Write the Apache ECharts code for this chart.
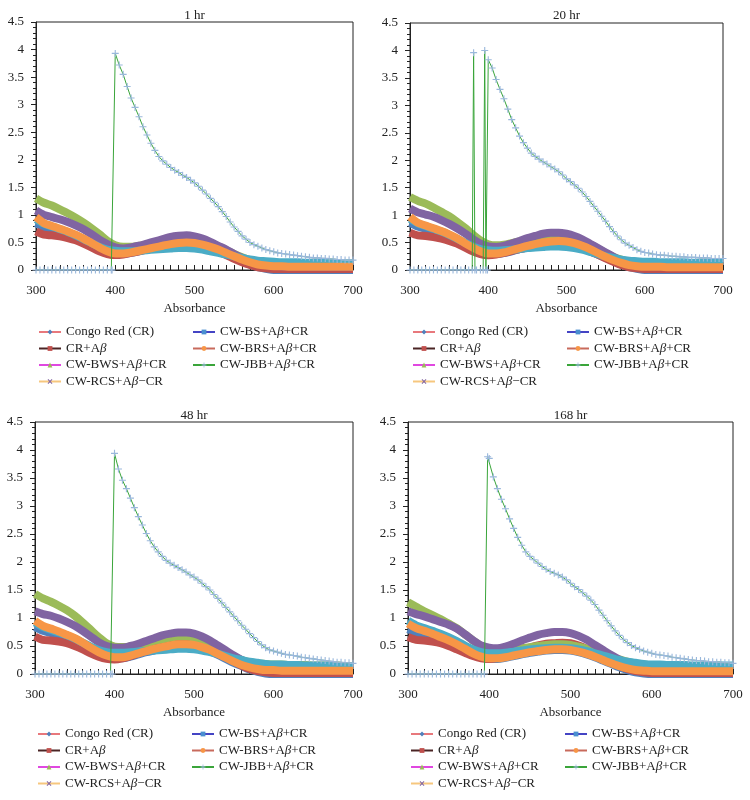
<!DOCTYPE html>
<html>
<head>
<meta charset="utf-8">
<script src="https://cdn.jsdelivr.net/npm/echarts@6/dist/echarts.min.js"></script>
<style>
    body { margin: 0; background: #fff; }
    .panel { position: absolute; width: 375px; height: 400px; }
</style>
</head>
<body>
<div id="p1" class="panel" style="left:0;top:0"></div>
<div id="p2" class="panel" style="left:375px;top:0"></div>
<div id="p3" class="panel" style="left:0;top:400px"></div>
<div id="p4" class="panel" style="left:375px;top:400px"></div>
<script>
// wavelengths (nm)
const wl = [300,310,320,330,340,350,360,370,380,390,400,410,420,430,440,450,460,470,480,490,500,510,520,530,540,550,560,570,580,590,600,610,620,630,640,650,660,670,680,690,700];
const wl5 = [400,405,410,415,420,425,430,435,440,445,450,455,460,465,470,475,480,485,490,495,500,505,510,515,520,525,530,535,540,545,550,555,560,565,570,575,580,585,590,595,600,605,610,615,620,625,630,635,640,645,650,655,660,665,670,675,680,685,690,695,700];

const seriesNames = ['Congo Red (CR)', 'CR+Aβ', 'CW-BWS+Aβ+CR', 'CW-RCS+Aβ−CR', 'CW-BS+Aβ+CR', 'CW-BRS+Aβ+CR', 'CW-JBB+Aβ+CR'];

// 1 hr
const cr1   = [0.85,0.78,0.74,0.70,0.66,0.60,0.54,0.46,0.38,0.32,0.29,0.29,0.31,0.34,0.37,0.40,0.43,0.45,0.47,0.47,0.46,0.43,0.39,0.34,0.28,0.22,0.16,0.10,0.05,0.02,0,0,0,0,0,0,0,0,0,0,0];
const crab1 = [0.70,0.64,0.63,0.61,0.58,0.54,0.48,0.41,0.34,0.29,0.27,0.28,0.31,0.34,0.37,0.40,0.43,0.45,0.47,0.47,0.46,0.43,0.39,0.33,0.27,0.20,0.14,0.09,0.05,0.03,0.02,0.02,0.02,0.02,0.02,0.02,0.02,0.02,0.02,0.02,0.02];
const bws1  = [1.30,1.22,1.17,1.10,1.03,0.95,0.86,0.76,0.65,0.53,0.45,0.42,0.42,0.44,0.46,0.49,0.52,0.55,0.57,0.58,0.57,0.54,0.49,0.43,0.36,0.29,0.23,0.18,0.14,0.12,0.11,0.11,0.10,0.10,0.10,0.10,0.10,0.09,0.09,0.09,0.09];
const rcs1  = [1.08,1.00,0.96,0.92,0.87,0.81,0.74,0.65,0.55,0.47,0.41,0.39,0.41,0.44,0.48,0.52,0.56,0.60,0.62,0.63,0.61,0.57,0.51,0.44,0.37,0.29,0.22,0.16,0.12,0.09,0.08,0.07,0.07,0.07,0.07,0.06,0.06,0.06,0.06,0.06,0.06];
const bs1   = [0.92,0.84,0.79,0.74,0.69,0.63,0.56,0.49,0.42,0.37,0.35,0.34,0.34,0.35,0.36,0.37,0.38,0.39,0.40,0.40,0.39,0.37,0.34,0.31,0.28,0.25,0.22,0.19,0.17,0.16,0.15,0.14,0.14,0.14,0.13,0.13,0.13,0.13,0.12,0.12,0.12];
const brs1  = [0.96,0.85,0.80,0.75,0.70,0.64,0.57,0.49,0.41,0.34,0.30,0.30,0.32,0.35,0.38,0.41,0.44,0.47,0.49,0.50,0.49,0.46,0.42,0.37,0.31,0.25,0.19,0.14,0.10,0.08,0.07,0.07,0.06,0.06,0.06,0.06,0.06,0.06,0.06,0.06,0.06];
const jbbPreX1 = [300,305,310,315,320,325,330,335,340,345,350,355,360,365,370,375,380,385,390,395,396];
const jbbPreY1 = [0,0,0,0,0,0,0,0,0,0,0,0,0,0,0,0,0,0,0,0,0];
const jbbTail1 = [3.93,3.72,3.55,3.33,3.12,2.95,2.78,2.60,2.45,2.30,2.17,2.06,1.98,1.92,1.86,1.81,1.77,1.72,1.68,1.63,1.58,1.52,1.45,1.38,1.30,1.23,1.15,1.06,0.97,0.87,0.78,0.70,0.62,0.56,0.50,0.46,0.43,0.40,0.37,0.35,0.33,0.31,0.30,0.29,0.28,0.27,0.26,0.25,0.24,0.23,0.22,0.22,0.21,0.21,0.20,0.20,0.19,0.19,0.18,0.18,0.18];

// 20 hr
const cr2   = [0.86,0.79,0.75,0.71,0.66,0.61,0.54,0.46,0.38,0.32,0.29,0.29,0.31,0.34,0.38,0.41,0.44,0.46,0.48,0.48,0.47,0.44,0.40,0.34,0.28,0.22,0.16,0.10,0.05,0.02,0,0,0,0,0,0,0,0,0,0,0];
const crab2 = [0.68,0.63,0.62,0.60,0.57,0.53,0.48,0.41,0.34,0.29,0.27,0.28,0.31,0.35,0.38,0.41,0.44,0.46,0.48,0.48,0.47,0.44,0.40,0.34,0.28,0.21,0.15,0.09,0.05,0.03,0.02,0.02,0.02,0.02,0.02,0.02,0.02,0.02,0.02,0.02,0.02];
const bws2  = [1.33,1.26,1.21,1.14,1.06,0.98,0.88,0.77,0.65,0.54,0.47,0.45,0.46,0.49,0.52,0.55,0.59,0.62,0.64,0.65,0.63,0.60,0.54,0.47,0.39,0.31,0.24,0.19,0.15,0.13,0.12,0.12,0.11,0.11,0.11,0.11,0.10,0.10,0.10,0.10,0.10];
const rcs2  = [1.12,1.05,1.01,0.97,0.91,0.84,0.76,0.67,0.57,0.48,0.43,0.42,0.44,0.48,0.53,0.58,0.62,0.66,0.68,0.68,0.66,0.62,0.56,0.48,0.40,0.32,0.24,0.17,0.12,0.09,0.08,0.07,0.07,0.07,0.07,0.06,0.06,0.06,0.06,0.06,0.06];
const bs2   = [0.93,0.85,0.80,0.75,0.70,0.64,0.57,0.50,0.43,0.38,0.36,0.35,0.36,0.37,0.38,0.40,0.41,0.42,0.43,0.43,0.42,0.40,0.37,0.33,0.29,0.25,0.22,0.19,0.17,0.16,0.15,0.15,0.14,0.14,0.14,0.14,0.13,0.13,0.13,0.13,0.13];
const brs2  = [0.97,0.86,0.81,0.76,0.71,0.65,0.58,0.49,0.41,0.34,0.30,0.30,0.32,0.36,0.40,0.44,0.47,0.50,0.52,0.53,0.52,0.49,0.44,0.38,0.31,0.24,0.18,0.13,0.09,0.07,0.06,0.06,0.06,0.05,0.05,0.05,0.05,0.05,0.05,0.05,0.05];
const jbbPreX2 = [300,305,310,315,320,325,330,335,340,345,350,355,360,365,370,375,379.5,381.3,383,385,390,393.5,395.5,397,399];
const jbbPreY2 = [0,0,0,0,0,0,0,0,0,0,0,0,0,0,0,0,0,3.96,0,0,0,0,4.0,0,0];
const jbbTail2 = [3.83,3.68,3.47,3.29,3.12,2.93,2.74,2.59,2.44,2.32,2.22,2.13,2.07,2.02,1.97,1.93,1.88,1.84,1.79,1.73,1.66,1.61,1.55,1.49,1.42,1.34,1.25,1.16,1.07,0.98,0.89,0.79,0.70,0.62,0.55,0.49,0.45,0.41,0.37,0.34,0.32,0.31,0.29,0.28,0.27,0.27,0.26,0.25,0.25,0.24,0.24,0.23,0.23,0.23,0.22,0.22,0.22,0.21,0.21,0.21,0.21];

// 48 hr
const cr3   = [0.84,0.77,0.73,0.69,0.65,0.59,0.52,0.44,0.37,0.31,0.28,0.28,0.31,0.35,0.39,0.42,0.45,0.47,0.49,0.49,0.48,0.45,0.40,0.34,0.27,0.20,0.14,0.08,0.04,0.01,0,0,0,0,0,0,0,0,0,0,0];
const crab3 = [0.67,0.61,0.60,0.58,0.55,0.50,0.44,0.37,0.31,0.27,0.26,0.28,0.32,0.37,0.42,0.46,0.50,0.54,0.56,0.57,0.56,0.52,0.46,0.39,0.31,0.23,0.15,0.09,0.05,0.03,0.02,0.02,0.02,0.02,0.02,0.02,0.02,0.02,0.02,0.02,0.02];
const bws3  = [1.43,1.35,1.29,1.22,1.14,1.04,0.92,0.79,0.66,0.55,0.49,0.48,0.49,0.52,0.55,0.59,0.62,0.65,0.67,0.67,0.65,0.60,0.54,0.46,0.38,0.31,0.25,0.21,0.19,0.18,0.17,0.17,0.16,0.16,0.16,0.15,0.15,0.15,0.15,0.14,0.14];
const rcs3  = [1.12,1.07,1.04,0.99,0.93,0.86,0.77,0.67,0.57,0.50,0.47,0.47,0.50,0.54,0.59,0.64,0.69,0.72,0.74,0.74,0.72,0.67,0.60,0.51,0.42,0.33,0.25,0.18,0.13,0.10,0.09,0.08,0.08,0.08,0.07,0.07,0.07,0.07,0.07,0.07,0.07];
const bs3   = [0.92,0.84,0.79,0.74,0.69,0.63,0.56,0.49,0.43,0.39,0.38,0.38,0.39,0.40,0.41,0.42,0.43,0.44,0.45,0.45,0.44,0.42,0.39,0.36,0.32,0.28,0.25,0.22,0.20,0.18,0.17,0.17,0.16,0.16,0.15,0.15,0.15,0.15,0.14,0.14,0.14];
const brs3  = [0.95,0.86,0.81,0.76,0.70,0.64,0.56,0.47,0.39,0.33,0.30,0.30,0.33,0.37,0.41,0.45,0.48,0.51,0.53,0.53,0.52,0.48,0.43,0.36,0.29,0.22,0.16,0.12,0.09,0.07,0.07,0.06,0.06,0.06,0.06,0.06,0.06,0.06,0.06,0.06,0.06];
const jbbPreX3 = [300,305,310,315,320,325,330,335,340,345,350,355,360,365,370,375,380,385,390,395,397];
const jbbPreY3 = [0,0,0,0,0,0,0,0,0,0,0,0,0,0,0,0,0,0,0,0,0];
const jbbTail3 = [3.94,3.66,3.46,3.31,3.14,2.97,2.81,2.66,2.51,2.38,2.27,2.18,2.10,2.03,1.98,1.94,1.90,1.86,1.82,1.77,1.73,1.68,1.62,1.56,1.50,1.42,1.35,1.27,1.19,1.11,1.03,0.95,0.87,0.80,0.72,0.65,0.58,0.52,0.47,0.43,0.41,0.39,0.37,0.35,0.34,0.33,0.32,0.30,0.29,0.28,0.27,0.26,0.25,0.24,0.23,0.22,0.21,0.21,0.20,0.20,0.19];

// 168 hr
const cr4   = [0.80,0.74,0.70,0.66,0.62,0.56,0.50,0.43,0.36,0.30,0.27,0.27,0.29,0.32,0.35,0.38,0.40,0.42,0.43,0.43,0.42,0.39,0.35,0.30,0.24,0.18,0.12,0.07,0.03,0.01,0,0,0,0,0,0,0,0,0,0,0];
const crab4 = [0.66,0.61,0.60,0.58,0.55,0.50,0.44,0.38,0.32,0.28,0.27,0.29,0.33,0.38,0.43,0.47,0.51,0.54,0.55,0.56,0.55,0.51,0.45,0.38,0.30,0.22,0.15,0.09,0.05,0.03,0.02,0.02,0.02,0.02,0.02,0.02,0.02,0.02,0.02,0.02,0.02];
const bws4  = [1.28,1.20,1.12,1.05,0.98,0.90,0.82,0.71,0.60,0.50,0.44,0.42,0.42,0.44,0.46,0.48,0.50,0.52,0.53,0.53,0.52,0.49,0.45,0.40,0.35,0.30,0.26,0.22,0.19,0.17,0.16,0.16,0.15,0.15,0.15,0.14,0.14,0.14,0.13,0.13,0.13];
const rcs4  = [1.12,1.07,1.03,0.98,0.93,0.88,0.81,0.71,0.60,0.51,0.47,0.46,0.49,0.54,0.60,0.65,0.70,0.73,0.75,0.75,0.73,0.68,0.61,0.52,0.43,0.34,0.26,0.19,0.14,0.11,0.10,0.09,0.09,0.09,0.08,0.08,0.08,0.08,0.08,0.08,0.08];
const bs4   = [0.95,0.87,0.82,0.77,0.72,0.66,0.59,0.51,0.44,0.39,0.37,0.37,0.38,0.40,0.42,0.44,0.45,0.46,0.47,0.47,0.46,0.44,0.41,0.37,0.33,0.29,0.25,0.22,0.20,0.18,0.17,0.17,0.16,0.16,0.16,0.15,0.15,0.15,0.15,0.15,0.15];
const brs4  = [0.90,0.82,0.77,0.72,0.66,0.60,0.53,0.45,0.37,0.31,0.28,0.28,0.30,0.33,0.36,0.39,0.41,0.43,0.44,0.44,0.43,0.40,0.36,0.31,0.25,0.19,0.14,0.10,0.07,0.06,0.05,0.05,0.05,0.05,0.05,0.05,0.05,0.05,0.05,0.05,0.05];
const jbbPreX4 = [300,305,310,315,320,325,330,335,340,345,350,355,360,365,370,375,380,385,390,394,398];
const jbbPreY4 = [0,0,0,0,0,0,0,0,0,0,0,0,0,0,0,0,0,0,0,0,3.88];
const jbbTail4 = [3.85,3.52,3.31,3.12,2.95,2.77,2.60,2.44,2.30,2.18,2.10,2.04,1.98,1.92,1.87,1.83,1.80,1.77,1.73,1.68,1.62,1.56,1.51,1.45,1.39,1.32,1.24,1.14,1.05,0.95,0.86,0.77,0.69,0.62,0.56,0.51,0.47,0.44,0.41,0.39,0.37,0.35,0.34,0.33,0.32,0.30,0.29,0.28,0.27,0.26,0.25,0.24,0.24,0.23,0.22,0.22,0.21,0.21,0.20,0.20,0.19];

const font = '"Liberation Serif", "DejaVu Serif", serif';
const xMark = 'path://M0,1.4L1.4,0L5,3.6L8.6,0L10,1.4L6.4,5L10,8.6L8.6,10L5,6.4L1.4,10L0,8.6L3.6,5Z';
const plusMark = 'path://M4.2,0H5.8V4.2H10V5.8H5.8V10H4.2V5.8H0V4.2H4.2Z';

// marker colour (drawn in plot), legend line colour, marker shape
const looks = [
    { mark: '#4F81BD', line: '#e8787c', symbol: 'diamond' },
    { mark: '#C0504D', line: '#4a2424', symbol: 'rect' },
    { mark: '#9BBB59', line: '#e048e0', symbol: 'triangle' },
    { mark: '#8064A2', line: '#f6c77e', symbol: xMark },
    { mark: '#4BACC6', line: '#4444c4', symbol: 'rect', legendMark: '#4a8fd0' },
    { mark: '#F79646', line: '#c86a5c', symbol: 'circle' },
    { mark: '#9ab8dc', line: '#3aa53a', symbol: plusMark }
];

function pairs(xs, ys) {
    return xs.map((x, i) => [x, ys[i]]);
}

function legendItem(name) {
    let k = seriesNames.indexOf(name);
    return {
        name: name,
        itemStyle: { color: looks[k].legendMark || looks[k].mark, borderWidth: 0 },
        lineStyle: { color: looks[k].line, width: 2 }
    };
}

function legendBox(names, left, top) {
    return {
        data: names.map(legendItem),
        orient: 'vertical',
        left: left,
        top: top,
        padding: 0,
        itemWidth: 22,
        itemHeight: 6,
        itemGap: 2.5,
        selectedMode: false,
        formatter: n => n.replace('β', '{b|β}'),
        textStyle: {
            fontFamily: font, fontSize: 13, color: '#222', lineHeight: 14,
            rich: { b: { fontFamily: font, fontSize: 13, fontStyle: 'italic', color: '#222' } }
        }
    };
}

function panel(id, title, grid, legendTop, nameGap, bands, jbbX, jbbY) {
    let myChart = echarts.init(document.getElementById(id));
    let series = bands.map((vals, k) => ({
        name: seriesNames[k],
        type: 'line',
        data: pairs(wl, vals),
        smooth: 0.3,
        showSymbol: false,
        symbol: looks[k].symbol,
        itemStyle: { color: looks[k].mark },
        lineStyle: { color: looks[k].mark, width: 8 },
        emphasis: { disabled: true },
        animation: false
    }));
    series.push({
        name: seriesNames[6],
        type: 'line',
        data: pairs(jbbX, jbbY),
        symbol: plusMark,
        symbolSize: 7,
        itemStyle: { color: looks[6].mark },
        lineStyle: { color: looks[6].line, width: 1 },
        emphasis: { disabled: true },
        animation: false
    });
    let centre = (grid.left + 375 - grid.right) / 2;
    let option = {
        title: {
            text: title,
            left: centre,
            top: 9,
            padding: 0,
            textAlign: 'center',
            textStyle: { fontFamily: font, fontSize: 13, fontWeight: 'normal', color: '#222' }
        },
        grid: {
            left: grid.left, right: grid.right, top: grid.top, bottom: grid.bottom,
            show: true, borderColor: '#222', borderWidth: 1, backgroundColor: 'transparent'
        },
        legend: [
            legendBox(seriesNames.slice(0, 4), grid.left + 2, legendTop),
            legendBox(seriesNames.slice(4), grid.left + 156, legendTop)
        ],
        xAxis: {
            type: 'value',
            min: 300,
            max: 700,
            interval: 100,
            name: 'Absorbance',
            nameLocation: 'middle',
            nameGap: nameGap,
            nameTextStyle: { fontFamily: font, fontSize: 13, color: '#222' },
            axisLine: { lineStyle: { color: '#222' } },
            axisTick: { inside: true, length: 5, lineStyle: { color: '#222' } },
            minorTick: { show: true, splitNumber: 10, length: 5, lineStyle: { color: '#222' } },
            axisLabel: { fontFamily: font, fontSize: 13, color: '#222', margin: 14 },
            splitLine: { show: false }
        },
        yAxis: {
            type: 'value',
            min: 0,
            max: 4.5,
            interval: 0.5,
            axisLine: { show: true, lineStyle: { color: '#222' } },
            axisTick: { show: true, length: 5, lineStyle: { color: '#222' } },
            minorTick: { show: true, splitNumber: 5, length: 3, lineStyle: { color: '#222' } },
            axisLabel: { fontFamily: font, fontSize: 13, color: '#222', margin: 12 },
            splitLine: { show: false }
        },
        series: series
    };
    myChart.setOption(option);
}

panel('p1', '1 hr',   { left: 36, right: 22, top: 22, bottom: 130 }, 325, 31,
    [cr1, crab1, bws1, rcs1, bs1, brs1], jbbPreX1.concat(wl5), jbbPreY1.concat(jbbTail1));
panel('p2', '20 hr',  { left: 35, right: 27, top: 23, bottom: 130 }, 325, 31,
    [cr2, crab2, bws2, rcs2, bs2, brs2], jbbPreX2.concat(wl5), jbbPreY2.concat(jbbTail2));
panel('p3', '48 hr',  { left: 35, right: 22, top: 22, bottom: 126 }, 327, 32,
    [cr3, crab3, bws3, rcs3, bs3, brs3], jbbPreX3.concat(wl5), jbbPreY3.concat(jbbTail3));
panel('p4', '168 hr', { left: 33, right: 17, top: 22, bottom: 126 }, 327, 32,
    [cr4, crab4, bws4, rcs4, bs4, brs4], jbbPreX4.concat(wl5), jbbPreY4.concat(jbbTail4));
</script>
</body>
</html>
